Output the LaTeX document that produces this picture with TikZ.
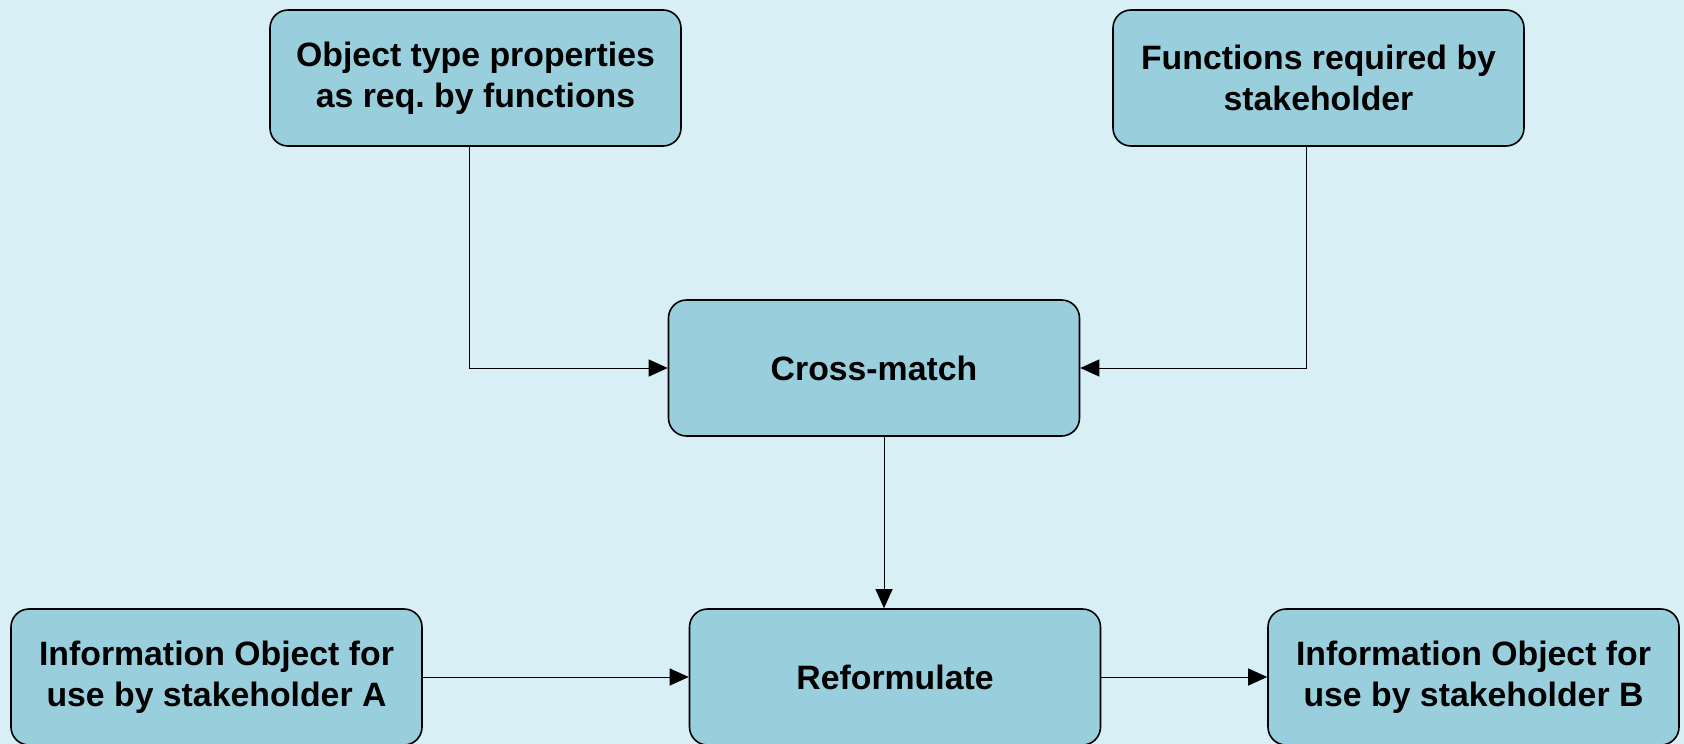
\documentclass[tikz,border=0pt]{standalone}
\usepackage{fontspec}
\setmainfont{Liberation Sans}
\frenchspacing
\usetikzlibrary{arrows.meta}
\definecolor{bgcol}{HTML}{D7EFF5}
\definecolor{boxcol}{HTML}{99CFDD}
\tikzset{
  procbox/.style={draw=black, line width=1.6pt, fill=boxcol, rounded corners=18pt,
    minimum width=411pt, minimum height=136pt, inner sep=0pt,
    align=center, font=\fontsize{33.8}{41}\selectfont\bfseries},
  flow/.style={draw=black, line width=1pt, -{Triangle[length=19pt,width=17pt]}}
}
\begin{document}
\begin{tikzpicture}[x=1pt, y=-1pt]
  \fill[bgcol] (0,0) rectangle (1684,744);
  \useasboundingbox (0,0) rectangle (1684,744);
  \node[procbox] (props) at (475.5,78) {Object type properties\\as req. by functions};
  \node[procbox] (funcs) at (1318.5,78) {Functions required by\\stakeholder};
  \node[procbox] (cross) at (874,368) {Cross-match};
  \node[procbox] (reform) at (895,677) {Reformulate};
  \node[procbox] (infoA) at (216.5,677) {Information Object for\\use by stakeholder A};
  \node[procbox] (infoB) at (1473.5,677) {Information Object for\\use by stakeholder B};
  \coordinate (pl) at (469,368);
  \coordinate (pr) at (1306,368);
  \draw[flow] (props.south -| pl) -- (pl) -- (cross.west);
  \draw[flow] (funcs.south -| pr) -- (pr) -- (cross.east);
  \draw[flow] (cross.south -| 884,0) -- (reform.north -| 884,0);
  \draw[flow] (infoA.east) -- (reform.west);
  \draw[flow] (reform.east) -- (infoB.west);
\end{tikzpicture}
\end{document}
